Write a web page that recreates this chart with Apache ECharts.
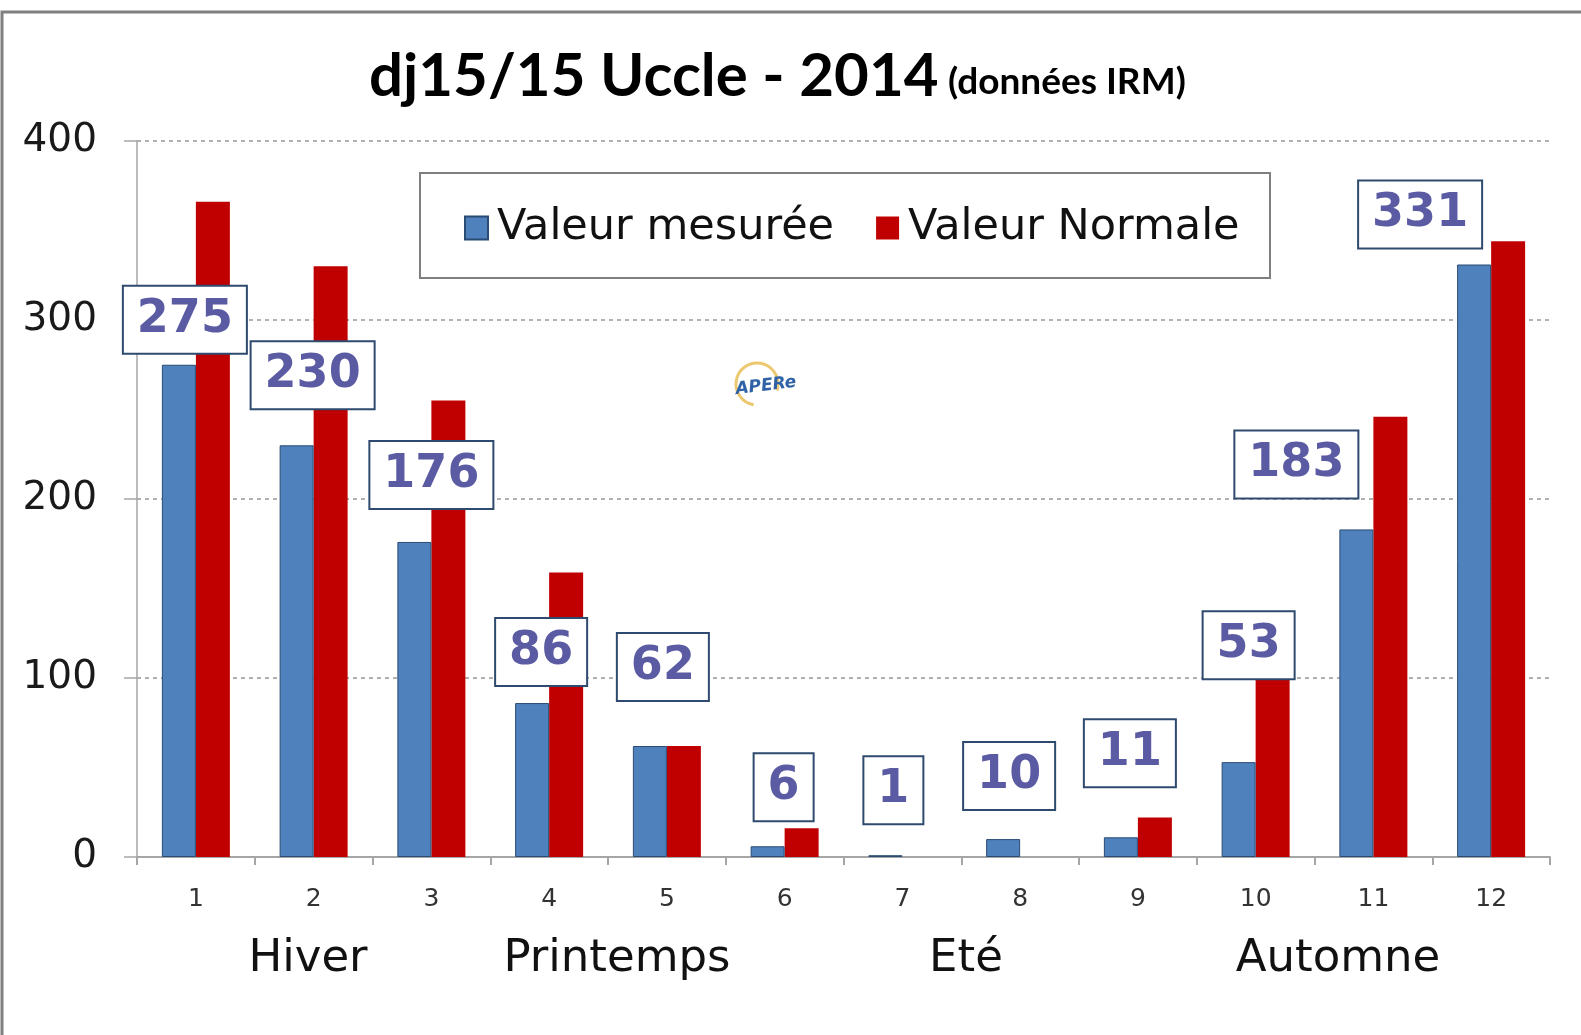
<!DOCTYPE html>
<html>
<head>
<meta charset="utf-8">
<script src="https://cdn.jsdelivr.net/npm/echarts@6/dist/echarts.min.js"></script>
<style>
html,body{margin:0;padding:0;background:#fff;}
#chart{width:1581px;height:1035px;}
</style>
</head>
<body>
<div id="chart"></div>
<script>
// ---- data ----
const months = ['1','2','3','4','5','6','7','8','9','10','11','12'];
const measured = [275, 230, 176, 86, 62, 6, 1, 10, 11, 53, 183, 331];
const normal = [366, 330, 255, 159, 62, 16, 0, 0, 22, 100, 246, 344];
const seriesNames = ['Valeur mesurée', 'Valeur Normale'];
const yTicks = [0, 100, 200, 300, 400];
const seasons = ['Hiver', 'Printemps', 'Eté', 'Automne'];
const titleMain = 'dj15/15 Uccle - 2014';
const titleSub = '(données IRM)';

// ---- layout (label offsets of the callout boxes, season text positions) ----
const labelDx = [6, 16, 17, 9, 13, 16, 8, 6, 9, 10, -60, -54];
const labelDy = [-7, -32, -29, -13, -41, -21, -27, -25, -46, -79, -27, -12];
const seasonX = [308, 617, 966, 1338];

const chart = echarts.init(document.getElementById('chart'), null, {renderer: 'canvas'});

const measuredData = measured.map((v, i) => ({
  value: v,
  label: { offset: [labelDx[i], labelDy[i]] }
}));

const option = {
  backgroundColor: '#ffffff',
  animation: false,
  title: [
    { text: titleMain, left: 364, top: 42,
      textStyle: { fontFamily: 'Lato', fontWeight: 'bold', fontSize: 60, color: '#000' } },
    { text: titleSub, left: 943, top: 59,
      textStyle: { fontFamily: 'Lato', fontWeight: 'bold', fontSize: 37, color: '#000' } }
  ],
  legend: {
    data: seriesNames,
    left: 464, top: 205, padding: 0,
    itemWidth: 23, itemHeight: 23, itemGap: 42,
    icon: 'rect',
    textStyle: { fontFamily: 'DejaVu Sans', fontSize: 43, lineHeight: 46, color: '#111', padding: [0, 0, 0, 4] }
  },
  grid: { left: 137, right: 31, top: 141, bottom: 178, containLabel: false },
  xAxis: {
    type: 'category',
    data: months,
    axisLine: { show: true, lineStyle: { color: '#a6a6a6', width: 2 } },
    axisTick: { show: true, length: 8, lineStyle: { color: '#a6a6a6', width: 2 } },
    axisLabel: { fontFamily: 'DejaVu Sans', fontSize: 25, color: '#333', margin: 30 },
    splitLine: { show: false }
  },
  yAxis: {
    type: 'value', min: yTicks[0], max: yTicks[yTicks.length - 1], interval: 100,
    axisLine: { show: true, lineStyle: { color: '#a6a6a6', width: 1.5 } },
    axisTick: { show: true, length: 13, lineStyle: { color: '#a6a6a6', width: 1.5 } },
    axisLabel: { fontFamily: 'DejaVu Sans', fontSize: 39, color: '#1a1a1a', margin: 40 },
    splitLine: { show: true, lineStyle: { color: '#b0b0b0', width: 2, type: [4, 4] } }
  },
  series: [
    {
      name: seriesNames[0], type: 'bar', z: 3,
      data: measuredData,
      barWidth: 34, barGap: '0%',
      itemStyle: { color: '#4f81bd', borderColor: '#2a4b73', borderWidth: 1 },
      label: {
        show: true, position: 'top', distance: 5,
        fontFamily: 'DejaVu Sans', fontWeight: 'bold', fontSize: 46, lineHeight: 46,
        color: '#5b5ba3', backgroundColor: '#ffffff',
        borderColor: '#2e4a6e', borderWidth: 2, padding: [10, 13]
      }
    },
    {
      name: seriesNames[1], type: 'bar', z: 2,
      data: normal,
      barWidth: 34, barGap: '0%',
      itemStyle: { color: '#c00000' }
    }
  ],
  graphic: [
    { type: 'rect', z: 0, silent: true,
      shape: { x: 2, y: 12, width: 1640, height: 1100 },
      style: { fill: 'none', stroke: '#7f7f7f', lineWidth: 3 } },
    { type: 'rect', z: 0, silent: true,
      shape: { x: 420, y: 173, width: 850, height: 105 },
      style: { fill: 'none', stroke: '#7f7f7f', lineWidth: 2 } },
    { type: 'arc', z: 1, silent: true,
      shape: { cx: 757, cy: 384, r: 21, startAngle: Math.PI * 0.55, endAngle: Math.PI * 2.1 },
      style: { stroke: '#ecc870', lineWidth: 3, fill: 'none' } },
    { type: 'text', z: 1, silent: true, x: 766, y: 386, rotation: 0.12,
      style: { text: 'APERe', fill: '#2f62a6', font: 'italic bold 17px "DejaVu Sans"',
               align: 'center', verticalAlign: 'middle' } }
  ].concat(seasons.map((s, i) => ({
    type: 'text', silent: true, x: seasonX[i], y: 959,
    style: { text: s, fill: '#111', font: '45px "DejaVu Sans"', align: 'center', verticalAlign: 'middle' }
  })))
};

chart.setOption(option);
</script>
</body>
</html>
